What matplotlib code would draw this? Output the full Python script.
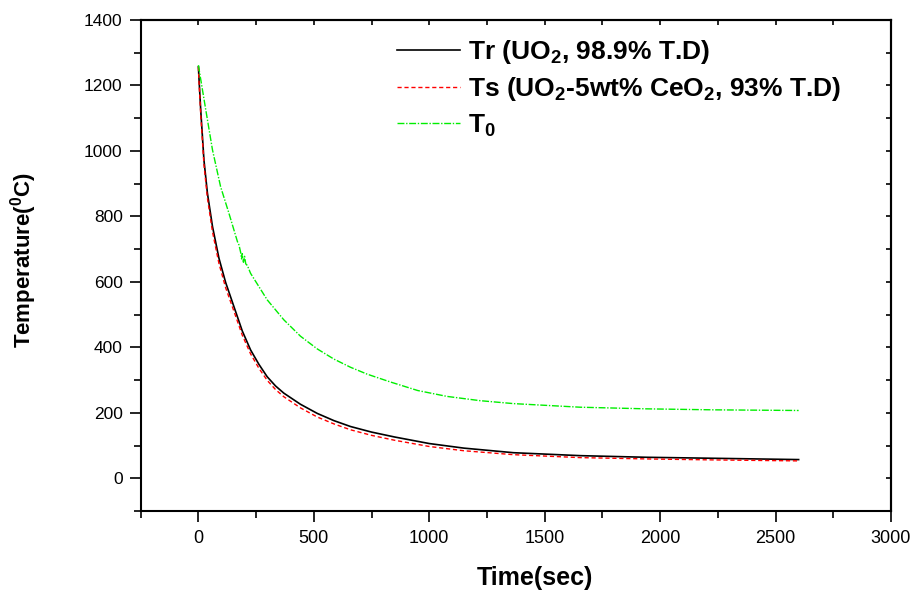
import numpy as np
import matplotlib
matplotlib.use("Agg")
import matplotlib.pyplot as plt

plt.rcParams['font.family'] = ['Liberation Sans', 'DejaVu Sans']
plt.rcParams['mathtext.fontset'] = 'custom'
plt.rcParams['mathtext.rm'] = 'Liberation Sans:bold'
plt.rcParams['mathtext.it'] = 'Liberation Sans:bold'
plt.rcParams['mathtext.bf'] = 'Liberation Sans:bold'

# --- data ---
t_r = [0, 3, 10, 24, 39, 61, 89, 118, 154, 190, 226, 262, 298, 334, 370, 442, 515, 587, 659, 750, 850,
       1000, 1150, 1365, 1654, 1942, 2230, 2600]
T_r = [1257, 1215, 1125, 972, 871, 769, 672, 598, 524, 450, 392, 348, 310, 282, 260, 226, 198, 176, 158, 141, 126,
       106, 92, 78, 69, 64, 61, 57]

t_s = t_r
T_s = [1257, 1205, 1112, 958, 856, 753, 656, 582, 510, 437, 380, 336, 299, 271, 249, 215, 187, 166, 148, 131, 116,
       97, 84, 72, 63, 59, 56, 53]

t_0 = [0, 1, 32, 61, 96, 132, 169, 176, 183, 187, 190, 195, 200, 205, 212, 226, 298, 370, 442, 515, 587, 659, 731,
       832, 950, 1077, 1220, 1365, 1654, 1942, 2230, 2600]
T_0 = [1262, 1257, 1125, 1003, 891, 810, 723, 712, 690, 670, 686, 660, 678, 655, 650, 626, 545, 484, 434, 395, 364,
       339, 318, 294, 268, 250, 237, 228, 217, 212, 209, 207]

labels = ['Tr (UO$_2$, 98.9% T.D)',
          'Ts (UO$_2$-5wt% CeO$_2$, 93% T.D)',
          'T$_0$']

x_major = [0, 500, 1000, 1500, 2000, 2500, 3000]
y_major = [0, 200, 400, 600, 800, 1000, 1200, 1400]

fig = plt.figure(figsize=(9.19, 5.97), dpi=100)
ax = fig.add_axes([0.1531, 0.1441, 0.8164, 0.8224])

l1, = ax.plot(t_r, T_r, color='black', lw=1.2, label=labels[0])
l2, = ax.plot(t_s, T_s, color='#ff0000', lw=1.0, dashes=(3, 2), label=labels[1])
l3, = ax.plot(t_0, T_0, color='#00ee00', lw=1.0, dashes=(5, 1.2, 1, 1.2), label=labels[2])

ax.set_xlim(-250, 3000)
ax.set_ylim(-100, 1400)
ax.set_xticks(x_major)
ax.set_xticks(np.arange(-250, 3001, 250), minor=True)
ax.set_yticks(y_major)
ax.set_yticks(np.arange(-100, 1401, 100), minor=True)

for s in ax.spines.values():
    s.set_linewidth(1.5)

ax.tick_params(axis='both', which='major', direction='out', length=8, width=1.2)
ax.tick_params(axis='both', which='minor', direction='out', length=5, width=1.2)
ax.tick_params(axis='x', labelsize=13, pad=6)
ax.tick_params(axis='y', labelsize=12.5, pad=5)

sx = ax.secondary_xaxis('top')
sx.set_xticks(np.arange(-250, 3001, 250))
sx.set_xticklabels([])
sx.tick_params(direction='in', length=3.5, width=1.2)
sx.spines['top'].set_linewidth(1.5)
sy = ax.secondary_yaxis('right')
sy.set_yticks(np.arange(-100, 1401, 100))
sy.set_yticklabels([])
sy.tick_params(direction='in', length=3.5, width=1.2)
sy.spines['right'].set_linewidth(1.5)

ax.set_xlabel('Time(sec)', fontsize=18, fontweight='bold')
ax.xaxis.set_label_coords(0.5255, -0.112)
ax.set_ylabel('Temperature($^0$C)', fontsize=16, fontweight='bold')
ax.yaxis.set_label_coords(-0.135, 0.511)

leg = fig.legend(handles=[l1, l2, l3], loc='upper left', bbox_to_anchor=(397 / 919, 1 - 38 / 597),
                 frameon=False, prop={'weight': 'bold', 'size': 19},
                 handlelength=2.4, handletextpad=0.3, labelspacing=0.35, borderpad=0, borderaxespad=0)

fig.savefig('out.png', dpi=100)
